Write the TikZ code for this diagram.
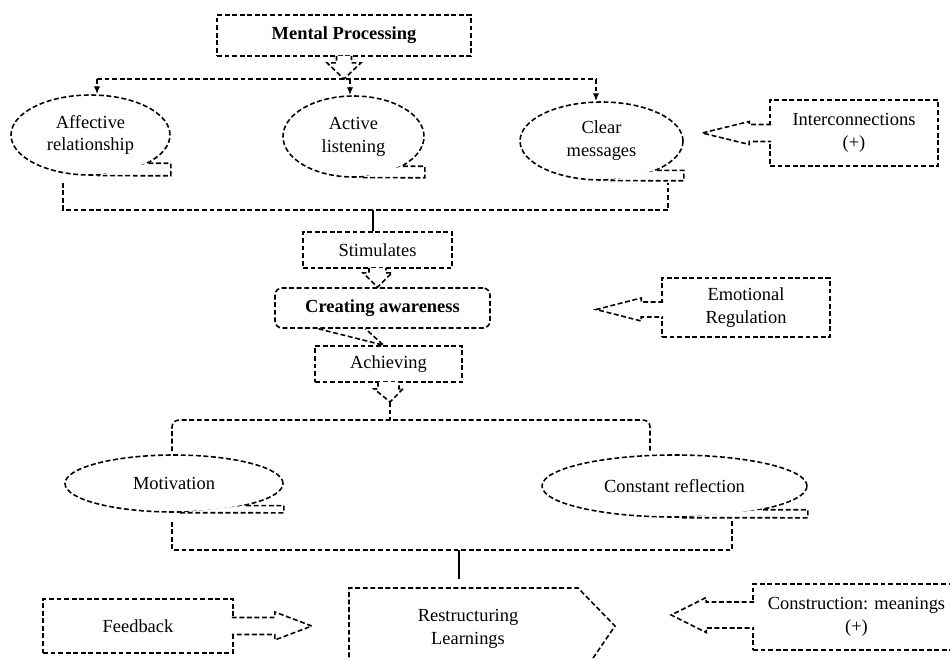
\documentclass[tikz,border=0pt]{standalone}
\usepackage{fontspec}
\setmainfont{Liberation Serif}
\usetikzlibrary{arrows.meta,calc,shapes.geometric}
\def\pxu{0.02cm}
\tikzset{
  dline/.style={line width=0.9pt, dash pattern=on 2.8pt off 1.5pt},
  box/.style={dline, draw, rectangle, align=center, inner sep=0pt},
  oval/.style={dline, draw, ellipse, align=center, inner sep=0pt},
  hollow/.style={dline, draw, fill=white},
  arrowend/.style={-{Latex[length=4.5pt,width=3.6pt]}},
  every node/.style={font=\fontsize{10.5}{13}\selectfont},
}
\begin{document}
\begin{tikzpicture}[x=0.02cm, y=-0.02cm]
	\useasboundingbox (0,0) rectangle (950,659);
	\clip (0,0) rectangle (950,659);

	% top row
	\node[box, minimum width=254*\pxu, minimum height=41*\pxu] (mp) at (344,35.5) {\textbf{Mental Processing}};
	\node[oval, minimum width=159*\pxu, minimum height=80*\pxu] (af) at (90.5,135) {Affective\\relationship};
	\node[oval, minimum width=141*\pxu, minimum height=81*\pxu] (al) at (353.5,136.5) {Active\\listening};
	\node[oval, minimum width=163*\pxu, minimum height=78*\pxu] (cm) at (601.5,141) {Clear\\messages};
	\node[box, minimum width=168*\pxu, minimum height=66*\pxu] (ic) at (854,133) {Interconnections\\(+)};

	% middle
	\node[box, minimum width=149*\pxu, minimum height=36*\pxu] (st) at (377.5,250) {Stimulates};
	\node[box, rounded corners=4pt, minimum width=215*\pxu, minimum height=40*\pxu] (ca) at (382.5,308) {\textbf{Creating awareness}};
	\node[box, minimum width=147*\pxu, minimum height=36*\pxu] (ach) at (388.5,364) {Achieving};
	\node[box, minimum width=168*\pxu, minimum height=59*\pxu] (er) at (746,307.5) {Emotional\\Regulation};

	% lower part
	\node[oval, minimum width=218*\pxu, minimum height=57*\pxu] (mo) at (174,483.5) {Motivation};
	\node[oval, minimum width=265*\pxu, minimum height=62*\pxu] (cr) at (674.5,486) {Constant reflection};
	\node[box, minimum width=190*\pxu, minimum height=54*\pxu] (fb) at (138,626) {Feedback};
	\node[box, minimum width=207*\pxu, minimum height=66*\pxu] (cn) at (856.5,617) {Construction: meanings\\(+)};
	\node[align=center] (rl) at (468,629) {Restructuring\\Learnings};
	\coordinate (rltop) at (459,588);
	\draw[dline] (349,680) |- (578,588) -- (615,626) -- (578,680);

	% callout tails
	\foreach \n/\a in {af/-26, al/-31, cm/-28, mo/-17, cr/-15}
		\path[dline, draw, fill=white] (\n.\a) -- (\n.\a -| \n.east) -- (\n.east |- \n.south) -- (\n.-80);

	% from Mental Processing to the three ovals
	\coordinate (t1) at (97,79);
	\coordinate (t2) at (350,79);
	\coordinate (t3) at (596,79);
	\draw[dline] (t1) -- (t3);
	\foreach \c/\n in {t1/af, t2/al, t3/cm}
		\draw[dline, arrowend] (\c) -- (\c |- \n.north);
	\path[hollow] ([shift={(-7.5,-1)}]mp.south) -- ++(0,7) -- ++(-9.5,0) -- (mp.south |- t1)
		-- ([shift={(17,6)}]mp.south) -- ++(-9.5,0) -- ++(0,-7);

	% ovals to Stimulates
	\coordinate (b1) at (63,210);
	\coordinate (b2) at (668,210);
	\coordinate (s1) at (373,210);
	\draw[dline] ($(b1 |- af.south)+(0,7)$) -- (b1) -- (b2) -- ($(b2 |- cm.south)+(0,2)$);
	\draw[line width=1pt] (s1) -- (s1 |- st.north);

	% Stimulates -> Creating awareness -> Achieving
	\path[hollow] ([shift={(-8.5,-1)}]st.south) -- ++(0,5) -- ++(-6,0) -- (st.south |- ca.north)
		-- ([shift={(14.5,4)}]st.south) -- ++(-6,0) -- ++(0,-5);
	\draw[dline] ([shift={(-64,0)}]ca.south) -- ([shift={(-5,0)}]ach.north) -- ([shift={(-17,0)}]ca.south);

	% Achieving to Motivation / Constant reflection
	\coordinate (m1) at (172,420);
	\coordinate (m2) at (650,420);
	\coordinate (mt) at (390,402);
	\draw[dline, rounded corners=4pt] ($(m1 |- mo.north)+(0,-3)$) -- (m1) -- (m2) -- ($(m2 |- cr.north)+(0,-3)$);
	\path[hollow] ([shift={(-10.5,-1)}]ach.south) -- ++(0,7) -- ++(-4,0) -- (mt)
		-- ([shift={(14.5,6)}]ach.south) -- ++(-4,0) -- ++(0,-7);
	\draw[dline] (mt) -- (mt |- m1);

	% to Restructuring Learnings
	\coordinate (c1) at (172,550);
	\coordinate (c2) at (732,550);
	\coordinate (s2) at (459,550);
	\draw[dline] ($(c1 |- mo.south)+(0,9)$) -- (c1) -- (c2) -- ($(c2 |- cr.south)+(0,2)$);
	\draw[line width=1pt] (s2) -- ($(rltop)+(0,-9)$);

	% side arrows
	\path[hollow] ([shift={(2,-8.5)}]ic.west) -- ++(-22,0) -- ++(0,-3) -- ++(-47,11.5) -- ++(47,11.5) -- ++(0,-3) -- ++(22,0);
	\path[hollow] ([shift={(2,-5.5)}]er.west) -- ++(-22,0) -- ++(0,-4) -- ++(-45,11.5) -- ++(45,11.5) -- ++(0,-4) -- ++(22,0);
	\path[hollow] ([shift={(2,-15)}]cn.west) -- ++(-48,0) -- ++(0,-4.5) -- ++(-35,17.5) -- ++(35,17.5) -- ++(0,-4.5) -- ++(48,0);
	\path[hollow] ([shift={(-2,-8.5)}]fb.east) -- ++(43,0) -- ++(0,-5.5) -- ++(37,14) -- ++(-37,14) -- ++(0,-5.5) -- ++(-43,0);
\end{tikzpicture}
\end{document}
